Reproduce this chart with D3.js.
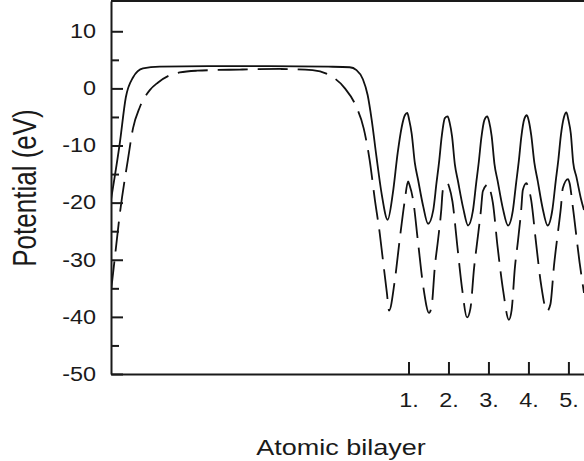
<!DOCTYPE html>
<html>
<head>
<meta charset="utf-8">
<script src="https://cdnjs.cloudflare.com/ajax/libs/d3/7.8.5/d3.min.js"></script>
<style>
  body { margin: 0; background: #fff; }
  text { font-family: 'Liberation Sans', Arial, sans-serif; fill: #1a1a1a; }
</style>
</head>
<body>
<svg id="chart" width="584" height="461"></svg>
<script>
// x in atomic bilayers, y in eV
const bilayerTicks = [1, 2, 3, 4, 5]
const yMajorTicks = [-50, -40, -30, -20, -10, 0, 10]
const yMinorTicks = [-45, -35, -25, -15, -5, 5]

const solidCurve = [
  [-6.44, -19.5], [-6.22, -9.6], [-6.07, -1.6], [-5.89, 1.9], [-5.64, 3.5], [-5.22, 3.8],
  [-4.0, 3.9], [-2.5, 3.9], [-1.0, 3.8], [-0.47, 3.7], [-0.3, 3.2], [-0.14, 1.6],
  [-0.02, -1.2], [0.08, -5.5], [0.2, -12], [0.33, -18.5], [0.48, -23], [0.61, -18.3],
  [0.73, -11.3], [0.83, -6.8], [0.91, -4.7], [0.97, -4.3],
  [1.02, -5.6], [1.08, -7.9], [1.16, -13.1], [1.24, -16], [1.37, -20.7], [1.49, -23.7],
  [1.62, -21.3], [1.70, -16.6], [1.77, -12.6], [1.83, -8.5], [1.91, -5.2], [1.98, -4.9],
  [2.03, -6.0], [2.09, -8.4], [2.16, -13.3], [2.24, -16.3], [2.37, -21], [2.49, -24],
  [2.61, -21.5], [2.69, -16.8], [2.76, -12.8], [2.82, -8.8], [2.90, -5.5], [2.97, -4.9],
  [3.02, -5.9], [3.08, -8.3], [3.15, -13.2], [3.23, -16.2], [3.36, -21], [3.49, -24],
  [3.61, -21.4], [3.69, -16.7], [3.76, -12.7], [3.82, -8.6], [3.90, -5.3], [3.96, -4.7],
  [4.01, -5.7], [4.07, -8.2], [4.15, -13.1], [4.23, -16.1], [4.35, -20.8], [4.48, -24],
  [4.60, -21.2], [4.68, -16.4], [4.75, -12.4], [4.81, -8.3], [4.89, -5.0], [4.95, -4.2],
  [5.00, -5.5], [5.06, -7.9], [5.12, -13], [5.20, -15.5], [5.32, -19.5], [5.39, -21.3]
]

const dashedCurve = [
  [-6.44, -35.5], [-6.35, -30], [-6.22, -22], [-6.02, -12.6], [-5.89, -7], [-5.72, -3.3],
  [-5.47, -0.3], [-5.27, 1], [-4.97, 2.3], [-4.72, 2.8], [-4.29, 3.1], [-3.22, 3.3],
  [-2.21, 3.4], [-1.4, 3.2], [-1.0, 2.4], [-0.6, 0.1], [-0.32, -3.0], [-0.12, -7.0],
  [0.03, -12.6], [0.16, -19.5], [0.28, -25.3], [0.36, -30], [0.46, -35.8], [0.515, -38.9],
  [0.66, -33.5], [0.78, -26.5], [0.91, -19.5], [0.99, -16.3],
  [1.03, -17], [1.115, -19.5], [1.24, -27], [1.37, -34.7], [1.515, -39.3], [1.58, -38.1],
  [1.66, -31.2], [1.74, -26.5], [1.82, -21.3], [1.86, -17.8], [1.975, -16.6],
  [2.02, -17.3], [2.10, -19.8], [2.22, -27.5], [2.34, -35], [2.465, -40.1], [2.55, -38.5],
  [2.64, -31.5], [2.72, -26.8], [2.81, -21.5], [2.86, -18], [2.99, -16.8],
  [3.03, -17.5], [3.11, -20], [3.23, -27.8], [3.37, -35.5], [3.51, -40.5], [3.58, -38.8],
  [3.66, -31.5], [3.74, -26.6], [3.82, -21.2], [3.86, -17.8], [3.95, -16.6],
  [3.99, -17.2], [4.07, -19.6], [4.19, -27], [4.32, -34.5], [4.465, -39], [4.55, -37.8],
  [4.64, -31], [4.72, -26.2], [4.81, -21], [4.86, -17.5], [4.99, -15.9],
  [5.03, -16.6], [5.11, -20.7], [5.28, -30.5], [5.39, -35.8]
]

const plot = { left: 111, right: 584, top: 1, bottom: 374 }
const stretch = 1.2 // glyphs in the reference are a bit wide

const svg = d3.select('#chart')

const x = d3.scaleLinear().domain([-6.44, 5.39]).range([plot.left, plot.right])
const y = d3.scaleLinear().domain([-50, 15.3]).range([plot.bottom, plot.top])

const line = d3.line()
  .x((d) => x(d[0]))
  .y((d) => y(d[1]))
  .curve(d3.curveMonotoneX)

svg.append('clipPath').attr('id', 'clip')
  .append('rect')
  .attr('x', plot.left).attr('y', plot.top)
  .attr('width', plot.right - plot.left).attr('height', plot.bottom - plot.top)

const curves = svg.append('g').attr('clip-path', 'url(#clip)')
curves.append('path')
  .attr('d', line(solidCurve))
  .attr('fill', 'none')
  .attr('stroke', '#111')
  .attr('stroke-width', 1.8)
curves.append('path')
  .attr('d', line(dashedCurve))
  .attr('fill', 'none')
  .attr('stroke', '#111')
  .attr('stroke-width', 1.8)
  .attr('stroke-dasharray', '30,10')

// axes, ticks point inward
const yAxis = svg.append('g')
  .attr('transform', `translate(${plot.left},0)`)
  .call(d3.axisLeft(y).tickValues(yMajorTicks).tickSize(-12).tickSizeOuter(0).tickPadding(15)
    .tickFormat((d) => String(d)))
svg.append('g')
  .attr('transform', `translate(${plot.left},0)`)
  .call(d3.axisLeft(y).tickValues(yMinorTicks).tickSize(-8).tickSizeOuter(0).tickFormat(''))
  .select('.domain').remove()

const xAxis = svg.append('g')
  .attr('transform', `translate(0,${plot.bottom})`)
  .call(d3.axisBottom(x).tickValues(bilayerTicks).tickSize(-12).tickSizeOuter(0)
    .tickFormat((d) => d + '.').tickPadding(19))

svg.selectAll('.domain, .tick line').attr('stroke', '#1a1a1a').attr('stroke-width', 2)

yAxis.selectAll('.tick text')
  .attr('font-size', 19.5)
  .attr('fill', '#1a1a1a')
  .each(function () {
    const t = d3.select(this)
    const tx = +t.attr('x')
    t.attr('x', 0).attr('transform', `translate(${tx},0) scale(${stretch},1)`)
  })
xAxis.selectAll('.tick text')
  .attr('font-size', 19.5)
  .attr('fill', '#1a1a1a')
  .attr('transform', `scale(${stretch},1)`)

// top frame
svg.append('line')
  .attr('x1', plot.left).attr('x2', plot.right)
  .attr('y1', plot.top).attr('y2', plot.top)
  .attr('stroke', '#1a1a1a').attr('stroke-width', 2)

// titles
svg.append('text')
  .attr('transform', `translate(341,455) scale(${stretch},1)`)
  .attr('text-anchor', 'middle')
  .attr('font-size', 22.5)
  .text('Atomic bilayer')

svg.append('text')
  .attr('transform', `translate(36,188) scale(1.25,1) rotate(-90)`)
  .attr('text-anchor', 'middle')
  .attr('font-size', 26)
  .text('Potential (eV)')
</script>
</body>
</html>
